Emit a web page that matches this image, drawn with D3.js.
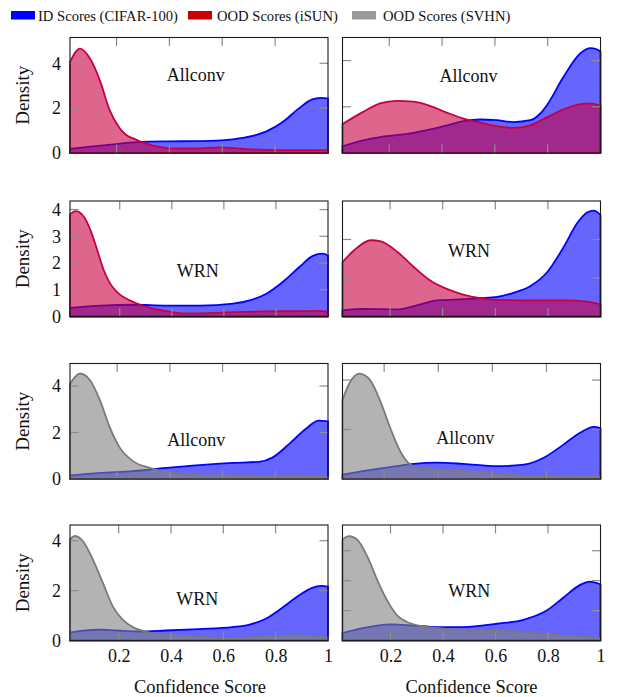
<!DOCTYPE html>
<html>
<head>
<meta charset="utf-8">
<script src="https://cdn.jsdelivr.net/npm/d3@7/dist/d3.min.js"></script>
<style>
  html, body { margin: 0; padding: 0; background: #fff; }
  svg { display: block; }
  svg text { font-family: "Liberation Serif", "DejaVu Serif", "Noto Serif", serif; }
</style>
</head>
<body>
<svg id="chart" width="624" height="697"></svg>
<script>
// ---------------- DATA ----------------
const legendLabels = ["ID Scores (CIFAR-100)", "OOD Scores (iSUN)", "OOD Scores (SVHN)"];
const panelLabels = ["Allconv", "Allconv", "WRN", "WRN", "Allconv", "Allconv", "WRN", "WRN"];
const xTickValues = [0.2, 0.4, 0.6, 0.8, 1];
const xTickLabels = ["0.2", "0.4", "0.6", "0.8", "1"];
const yTickValues = [[0, 2, 4], [0, 2, 4], [0, 1, 2, 3, 4], [0, 2, 4, 6], [0, 2, 4], [0, 2, 4], [0, 2, 4], [0, 1, 2, 3]];
const xMinValues = [0.024, 0.023, 0.009, 0.019, 0.021, 0.046, 0.014, 0.017];
const yMaxValues = [5.15, 5.0, 4.32, 6.0, 4.97, 4.67, 4.63, 3.86];
const oodKind = ["iSUN", "iSUN", "iSUN", "iSUN", "SVHN", "SVHN", "SVHN", "SVHN"];
const labelAnchorY = [3.5, 3.35, 1.72, 3.4, 1.68, 1.65, 1.67, 1.68];

// row 1 left : Allconv, CIFAR-100 vs iSUN
const idAllconvISUN_L = [[0.024,0.18],[0.1,0.28],[0.2,0.40],[0.29,0.50],[0.4,0.52],[0.5,0.53],[0.58,0.55],[0.64,0.61],[0.715,0.76],[0.765,0.95],[0.83,1.39],[0.89,1.99],[0.94,2.39],[0.972,2.46],[1.0,2.43]];
const oodAllconvISUN_L = [[0.024,4.06],[0.062,4.65],[0.1,4.2],[0.137,3.24],[0.174,1.91],[0.212,1.1],[0.237,0.8],[0.263,0.65],[0.3,0.46],[0.35,0.3],[0.4,0.21],[0.5,0.2],[0.59,0.25],[0.7,0.17],[0.8,0.13],[1.0,0.13]];
// row 1 right
const idAllconvISUN_R = [[0.023,0.29],[0.101,0.55],[0.165,0.69],[0.228,0.77],[0.291,0.87],[0.354,1.02],[0.418,1.2],[0.481,1.38],[0.544,1.45],[0.607,1.42],[0.67,1.34],[0.734,1.42],[0.772,1.71],[0.797,2.07],[0.86,3.3],[0.924,4.32],[0.962,4.54],[0.985,4.49],[1.0,4.39]];
const oodAllconvISUN_R = [[0.023,1.25],[0.101,1.78],[0.165,2.15],[0.228,2.26],[0.291,2.22],[0.354,2.04],[0.418,1.75],[0.481,1.49],[0.544,1.31],[0.607,1.16],[0.67,1.09],[0.734,1.2],[0.797,1.54],[0.86,1.89],[0.924,2.12],[0.962,2.15],[1.0,2.04]];
// row 2 left : WRN, CIFAR-100 vs iSUN
const idWrnISUN_L = [[0.009,0.32],[0.126,0.41],[0.253,0.44],[0.381,0.41],[0.508,0.41],[0.635,0.48],[0.699,0.6],[0.763,0.85],[0.826,1.29],[0.89,1.85],[0.94,2.26],[0.979,2.35],[1.0,2.28]];
const oodWrnISUN_L = [[0.009,3.82],[0.031,3.94],[0.063,3.72],[0.088,3.22],[0.114,2.47],[0.139,1.72],[0.164,1.22],[0.19,0.91],[0.253,0.54],[0.317,0.32],[0.381,0.2],[0.444,0.12],[0.508,0.12],[0.635,0.16],[0.763,0.19],[0.89,0.2],[0.966,0.21],[1.0,0.17]];
// row 2 right
const idWrnISUN_R = [[0.019,0.32],[0.101,0.39],[0.228,0.37],[0.291,0.54],[0.38,0.84],[0.481,0.9],[0.544,0.95],[0.608,1.02],[0.671,1.24],[0.734,1.59],[0.797,2.3],[0.86,3.61],[0.911,4.84],[0.949,5.4],[0.974,5.5],[1.0,5.28]];
const oodWrnISUN_R = [[0.019,2.82],[0.063,3.44],[0.127,3.96],[0.165,3.9],[0.228,3.35],[0.291,2.56],[0.354,1.86],[0.418,1.42],[0.481,1.12],[0.544,0.95],[0.608,0.86],[0.734,0.84],[0.86,0.84],[0.949,0.77],[1.0,0.63]];
// row 3 left : Allconv, CIFAR-100 vs SVHN
const idAllconvSVHN_L = [[0.021,0.15],[0.135,0.26],[0.26,0.34],[0.386,0.48],[0.512,0.6],[0.638,0.69],[0.738,0.74],[0.789,0.92],[0.852,1.5],[0.915,2.15],[0.965,2.51],[1.0,2.48]];
const oodAllconvSVHN_L = [[0.021,4.1],[0.059,4.54],[0.097,4.25],[0.135,3.38],[0.172,2.22],[0.21,1.35],[0.26,0.77],[0.323,0.48],[0.386,0.31],[0.449,0.22],[0.512,0.16],[0.638,0.15],[0.764,0.13],[0.888,0.15],[1.0,0.08]];
// row 3 right
const idAllconvSVHN_R = [[0.046,0.18],[0.121,0.32],[0.247,0.52],[0.309,0.61],[0.395,0.66],[0.494,0.61],[0.617,0.52],[0.716,0.58],[0.79,0.86],[0.864,1.4],[0.926,1.88],[0.975,2.11],[1.0,2.06]];
const oodAllconvSVHN_R = [[0.046,3.2],[0.074,3.92],[0.109,4.26],[0.148,4.0],[0.185,3.17],[0.222,2.08],[0.259,1.13],[0.296,0.59],[0.346,0.42],[0.407,0.38],[0.494,0.32],[0.617,0.21],[0.741,0.11],[0.802,0.08],[0.889,0.14],[1.0,0.08]];
// row 4 left : WRN, CIFAR-100 vs SVHN
const idWrnSVHN_L = [[0.014,0.32],[0.065,0.4],[0.128,0.43],[0.191,0.4],[0.28,0.36],[0.381,0.4],[0.507,0.46],[0.634,0.54],[0.697,0.63],[0.76,0.86],[0.824,1.3],[0.887,1.79],[0.937,2.1],[0.975,2.19],[1.0,2.16]];
const oodWrnSVHN_L = [[0.014,4.05],[0.033,4.19],[0.065,3.96],[0.102,3.23],[0.14,2.3],[0.178,1.36],[0.216,0.83],[0.254,0.54],[0.318,0.32],[0.381,0.23],[0.444,0.19],[0.507,0.14],[0.634,0.1],[0.76,0.16],[0.862,0.2],[0.95,0.16],[1.0,0.12]];
// row 4 right
const idWrnSVHN_R = [[0.017,0.25],[0.099,0.42],[0.2,0.54],[0.288,0.5],[0.377,0.45],[0.478,0.45],[0.605,0.56],[0.706,0.69],[0.795,1.0],[0.858,1.43],[0.921,1.85],[0.959,1.97],[1.0,1.88]];
const oodWrnSVHN_R = [[0.017,3.38],[0.042,3.49],[0.074,3.36],[0.112,2.8],[0.15,2.01],[0.187,1.34],[0.225,0.84],[0.263,0.62],[0.326,0.47],[0.415,0.39],[0.542,0.33],[0.668,0.31],[0.795,0.2],[0.921,0.13],[1.0,0.08]];

const idSeries = [idAllconvISUN_L, idAllconvISUN_R, idWrnISUN_L, idWrnISUN_R, idAllconvSVHN_L, idAllconvSVHN_R, idWrnSVHN_L, idWrnSVHN_R];
const oodSeries = [oodAllconvISUN_L, oodAllconvISUN_R, oodWrnISUN_L, oodWrnISUN_R, oodAllconvSVHN_L, oodAllconvSVHN_R, oodWrnSVHN_L, oodWrnSVHN_R];

// ---------------- LAYOUT / STYLE ----------------
const colors = {
  id:   { line: "#0000ff", fill: "#0000ff" },
  iSUN: { line: "#c80041", fill: "#c80041" },
  SVHN: { line: "#7a7a7a", fill: "#808080" }
};
const legendSwatch = ["#0000ff", "#cc0000", "#999999"];
const colLeft = [70, 342.5];
const panelW = 258;
const rowTop = [37.5, 201, 363.5, 525];
const panelH = 115.5;

const svg = d3.select("#chart");

// Legend
const legendX = [11, 188, 352];
const legendTextX = [38, 217, 383];
legendLabels.forEach((t, i) => {
  svg.append("rect").attr("x", legendX[i]).attr("y", 11).attr("width", 24).attr("height", 8.5).attr("fill", legendSwatch[i]);
  svg.append("text").attr("x", legendTextX[i]).attr("y", 20.5).style("font-size", "14.6px")
    .attr("fill", "#111").text(t);
});

for (let p = 0; p < 8; p++) {
  const col = p % 2, row = Math.floor(p / 2);
  const x0 = colLeft[col], y0 = rowTop[row];
  const g = svg.append("g").attr("transform", `translate(${x0},${y0})`);
  const x = d3.scaleLinear().domain([xMinValues[p], 1]).range([0, panelW]);
  const y = d3.scaleLinear().domain([0, yMaxValues[p]]).range([panelH, 0]);

  const area = d3.area().x(d => x(d[0])).y0(y(0)).y1(d => y(d[1])).curve(d3.curveMonotoneX);

  const drawSeries = (data, c) => {
    g.append("path").datum(data).attr("d", area)
      .attr("fill", c.fill).attr("fill-opacity", 0.6)
      .attr("stroke", c.line).attr("stroke-width", 1.8).attr("stroke-linejoin", "round");
  };
  drawSeries(idSeries[p], colors.id);
  drawSeries(oodSeries[p], colors[oodKind[p]]);

  // ticks (inward, mirrored)
  const tickLen = 8.5;
  const tickColor = "#8c8c8c";
  xTickValues.forEach(v => {
    if (v >= 1) return;
    g.append("line").attr("x1", x(v)).attr("x2", x(v)).attr("y1", 0).attr("y2", tickLen).attr("stroke", tickColor).attr("stroke-width", 1.2);
    g.append("line").attr("x1", x(v)).attr("x2", x(v)).attr("y1", panelH).attr("y2", panelH - tickLen).attr("stroke", tickColor).attr("stroke-width", 1.2);
  });
  yTickValues[p].forEach(v => {
    if (v <= 0 || v >= yMaxValues[p]) return;
    g.append("line").attr("x1", 0).attr("x2", tickLen).attr("y1", y(v)).attr("y2", y(v)).attr("stroke", tickColor).attr("stroke-width", 1.2);
    g.append("line").attr("x1", panelW).attr("x2", panelW - tickLen).attr("y1", y(v)).attr("y2", y(v)).attr("stroke", tickColor).attr("stroke-width", 1.2);
  });

  // frame
  g.append("rect").attr("x", 0).attr("y", 0).attr("width", panelW).attr("height", panelH)
    .attr("fill", "none").attr("stroke", "#1a1a1a").attr("stroke-width", 1.1);

  // y tick labels on left column
  if (col === 0) {
    const yAxis = d3.axisLeft(y).tickValues(yTickValues[p].filter(v => v <= yMaxValues[p])).tickSize(0).tickPadding(9).tickFormat(d3.format("d"));
    const ax = g.append("g").call(yAxis).attr("font-family", null).attr("font-size", null);
    ax.select(".domain").remove();
    ax.selectAll("text").style("font-size", "18px").attr("fill", "#111");
    svg.append("text")
      .attr("transform", `translate(29,${y0 + panelH / 2}) rotate(-90)`)
      .attr("text-anchor", "middle").style("font-size", "19px").attr("fill", "#111")
      .text("Density");
  }
  // x tick labels on bottom row
  if (row === 3) {
    const xAxis = d3.axisBottom(x).tickValues(xTickValues).tickSize(0).tickPadding(9)
      .tickFormat((d, i) => xTickLabels[i]);
    const ax = g.append("g").attr("transform", `translate(0,${panelH})`).call(xAxis).attr("font-family", null).attr("font-size", null);
    ax.select(".domain").remove();
    ax.selectAll("text").style("font-size", "18px").attr("fill", "#111");
    svg.append("text").attr("x", x0 + panelW / 2 + (col === 0 ? 1 : 0)).attr("y", 693)
      .attr("text-anchor", "middle").style("font-size", "18.5px").attr("fill", "#111")
      .text("Confidence Score");
  }

  // panel label
  g.append("text").attr("x", x(0.5)).attr("y", y(labelAnchorY[p]))
    .attr("dy", "0.35em").attr("text-anchor", "middle")
    .style("font-size", "18px").attr("fill", "#111")
    .text(panelLabels[p]);
}
</script>
</body>
</html>
